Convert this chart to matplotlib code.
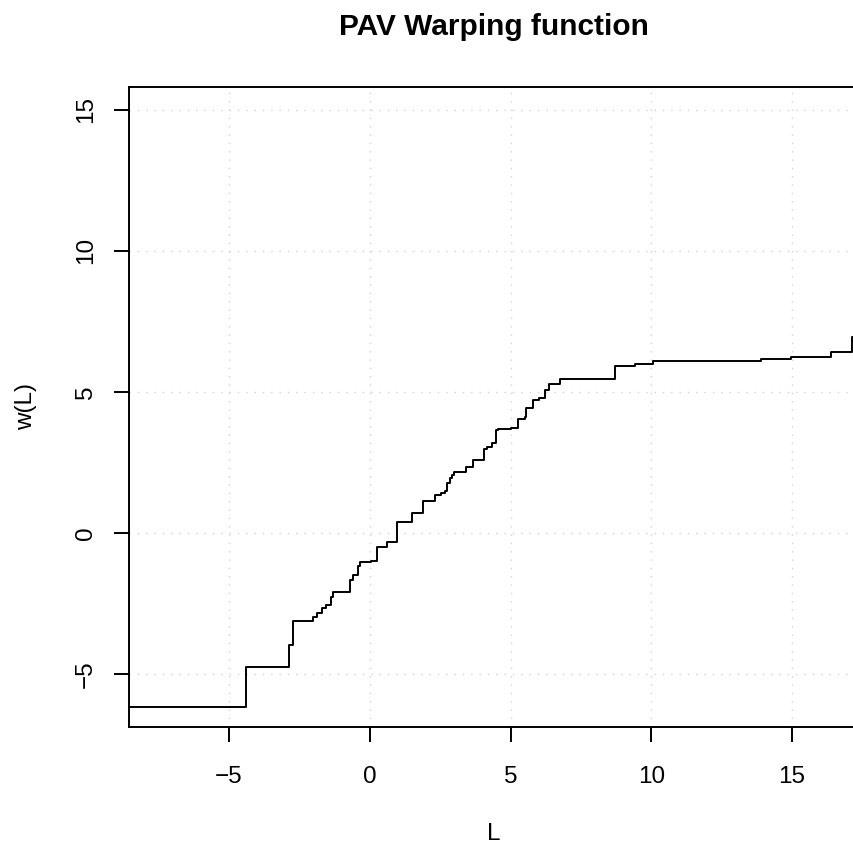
import matplotlib
matplotlib.use("Agg")
import matplotlib.pyplot as plt

plt.rcParams['font.family'] = ['Liberation Sans', 'DejaVu Sans']

# step start points (L) and warped values w(L)
step_x = [-9.0, -4.40, -2.86, -2.72, -2.00, -1.89, -1.70, -1.54, -1.38, -1.32,
          -0.69, -0.58, -0.40, -0.34, 0.06, 0.27, 0.60, 0.96, 1.51, 1.89,
          2.30, 2.52, 2.66, 2.76, 2.85, 2.92, 3.00, 3.43, 3.66, 4.05,
          4.15, 4.34, 4.47, 4.55, 5.02, 5.26, 5.50, 5.56, 5.80, 6.00,
          6.22, 6.36, 6.75, 8.72, 9.43, 10.06, 13.89, 14.95, 16.38, 17.14, 18.0]
step_y = [-6.16, -4.74, -3.97, -3.12, -2.99, -2.83, -2.66, -2.56, -2.26, -2.10,
          -1.67, -1.49, -1.19, -1.04, -0.98, -0.49, -0.31, 0.37, 0.70, 1.12,
          1.35, 1.43, 1.49, 1.76, 1.94, 2.05, 2.17, 2.32, 2.59, 2.97,
          3.04, 3.20, 3.65, 3.69, 3.73, 4.04, 4.10, 4.44, 4.72, 4.78,
          5.05, 5.27, 5.47, 5.93, 5.99, 6.09, 6.16, 6.23, 6.43, 6.94, 6.94]

x_ticks = [-5, 0, 5, 10, 15]
y_ticks = [-5, 0, 5, 10, 15]

W, H = 854, 849
fig = plt.figure(figsize=(W / 100, H / 100), dpi=100)
ax = fig.add_axes([129 / W, (H - 726.7) / H, (858 - 129) / W, (726.7 - 86.7) / H])

ax.step(step_x, step_y, where='post', color='black', lw=1.4)

ax.set_xlim(-8.55, 17.34)
ax.set_ylim(-6.87, 15.82)
ax.set_xticks(x_ticks)
ax.set_yticks(y_ticks)
ax.set_xticklabels(['\u22125', '0', '5', '10', '15'])
ax.set_yticklabels(['\u22125', '0', '5', '10', '15'], rotation=90, va='center')
ax.grid(True, color='#D3D3D3', linestyle=(0, (1, 5)), lw=1)
ax.set_axisbelow(True)

for s in ax.spines.values():
    s.set_linewidth(1.4)
ax.tick_params(direction='out', length=11, width=1.4, labelsize=17.5, pad=17)
ax.tick_params(axis='y', pad=12)

fig.text(494 / W, 1 - 27 / H, 'PAV Warping function', ha='center', va='center',
         fontsize=21.5, fontweight='bold')
fig.text(494 / W, 1 - 834 / H, 'L', ha='center', va='center', fontsize=17.5)
fig.text(26 / W, 1 - 406 / H, 'w(L)', ha='center', va='center', fontsize=17.5, rotation=90)

fig.savefig('out.png', dpi=100)
